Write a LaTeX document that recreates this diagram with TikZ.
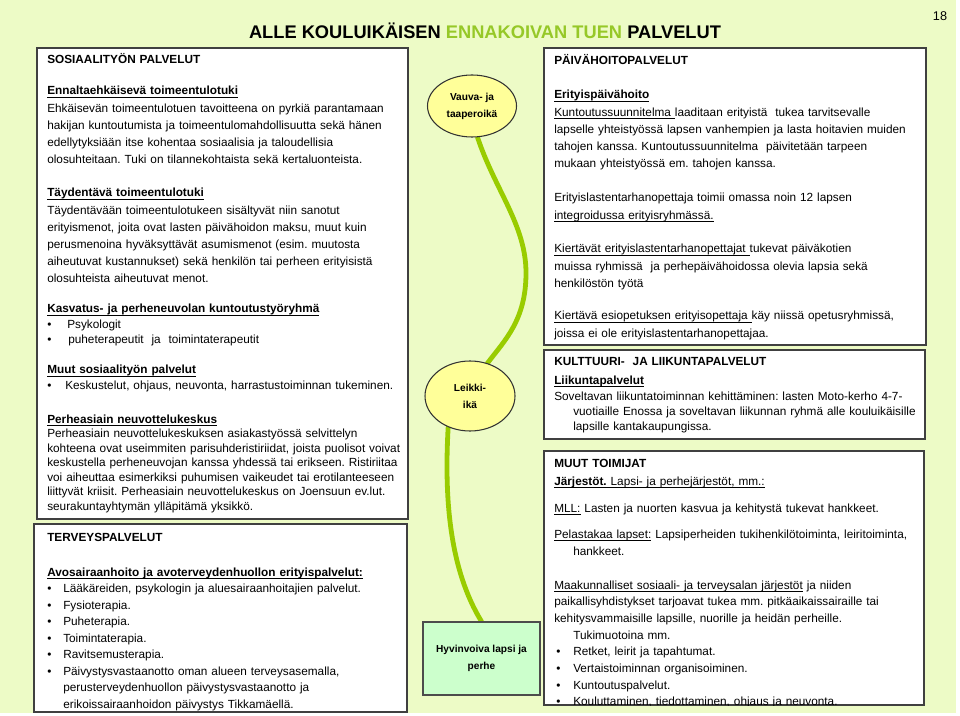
\documentclass[tikz,border=0pt]{standalone}
\usepackage{fontspec}
\setmainfont{Liberation Sans}
\usetikzlibrary{shapes.geometric,fit,backgrounds}
\frenchspacing

\definecolor{pagegreen}{RGB}{237,251,198}
\definecolor{titlegreen}{RGB}{150,200,40}
\definecolor{linegreen}{RGB}{153,204,0}
\definecolor{bubbleyellow}{RGB}{255,255,153}
\definecolor{mintbox}{RGB}{204,255,204}

\newdimen\px \px=0.75pt
\newcommand\lbul[1][18]{\makebox[#1\px][l]{•}}
\newsavebox\ulbox
\newcommand\uln[1]{\leavevmode\sbox\ulbox{#1}\rlap{\rule[-1.6pt]{\wd\ulbox}{0.45pt}}\usebox\ulbox}

\tikzset{
  panel/.style={draw=black!75, line width=1pt, fill=white, inner sep=0pt},
  txt/.style={anchor=base west, inner sep=0pt, text width=300pt, align=left,
    font=\fontsize{8.85}{#1}\selectfont},
  txt/.default=12.9,
  bubble/.style={ellipse, draw=black!80, line width=0.8pt, fill=bubbleyellow, inner sep=0pt},
  bubbletext/.style={align=center, inner sep=0pt, font=\bfseries\fontsize{7.6}{12.75}\selectfont},
  lifeline/.style={linegreen, line width=3.6pt, line cap=round},
}

\begin{document}
\begin{tikzpicture}[x=0.75pt,y=-0.75pt]
\useasboundingbox (0,0) rectangle (960,716);
\begin{scope}[on background layer]
\fill[pagegreen] (0,0) rectangle (956,713);
\end{scope}

\node[font=\bfseries\fontsize{13.7}{16}\selectfont] (title) at (485,31)
  {ALLE KOULUIKÄISEN \textcolor{titlegreen}{ENNAKOIVAN TUEN} PALVELUT};
\node[font=\fontsize{9.5}{11}\selectfont] (pagenum) at (940,16) {18};

% vasen puoli
\node[panel, fit={(37,48) (408,519)}] (sos) {};
\node[panel, fit={(34,524) (407,712)}] (terv) {};

\node[txt] (soshead) at (47,64) {\textbf{SOSIAALITYÖN PALVELUT}};
\node[txt=12.9] (ennalta) at (47,95) {\textbf{\uln{Ennaltaehkäisevä toimeentulotuki}}\\
Ehkäisevän toimeentulotuen tavoitteena on pyrkiä parantamaan\\
hakijan kuntoutumista ja toimeentulomahdollisuutta sekä hänen\\
edellytyksiään itse kohentaa sosiaalisia ja taloudellisia\\
olosuhteitaan. Tuki on tilannekohtaista sekä kertaluonteista.};
\node[txt=12.9] (taydentava) at (47,197) {\textbf{\uln{Täydentävä toimeentulotuki}}\\
Täydentävään toimeentulotukeen sisältyvät niin sanotut\\
erityismenot, joita ovat lasten päivähoidon maksu, muut kuin\\
perusmenoina hyväksyttävät asumismenot (esim. muutosta\\
aiheutuvat kustannukset) sekä henkilön tai perheen erityisistä\\
olosuhteista aiheutuvat menot.};
\node[txt=11.6] (kasvatus) at (47,313) {\textbf{\uln{Kasvatus- ja perheneuvolan kuntoutustyöryhmä}}\\
\lbul[20]Psykologit\\
\lbul[21]puheterapeutit\ \ ja\ \ toimintaterapeutit};
\node[txt=12] (muutsos) at (47,374) {\textbf{\uln{Muut sosiaalityön palvelut}}\\
\lbul Keskustelut, ohjaus, neuvonta, harrastustoiminnan tukeminen.};
\node[txt=10.9] (perheas) at (47,423) {\textbf{\uln{Perheasiain neuvottelukeskus}}\\
Perheasiain neuvottelukeskuksen asiakastyössä selvittelyn\\
kohteena ovat useimmiten parisuhderistiriidat, joista puolisot voivat\\
keskustella perheneuvojan kanssa yhdessä tai erikseen. Ristiriitaa\\
voi aiheuttaa esimerkiksi puhumisen vaikeudet tai erotilanteeseen\\
liittyvät kriisit. Perheasiain neuvottelukeskus on Joensuun ev.lut.\\
seurakuntayhtymän ylläpitämä yksikkö.};

\node[txt] (tervhead) at (47,541) {\textbf{TERVEYSPALVELUT}};
\node[txt=12.4] (avosair) at (47,576) {\textbf{\uln{Avosairaanhoito ja avoterveydenhuollon erityispalvelut:}}\\
\lbul[16]Lääkäreiden, psykologin ja aluesairaanhoitajien palvelut.\\
\lbul[16]Fysioterapia.\\
\lbul[16]Puheterapia.\\
\lbul[16]Toimintaterapia.\\
\lbul[16]Ravitsemusterapia.\\
\lbul[16]Päivystysvastaanotto oman alueen terveysasemalla,\\
\hspace*{16\px}perusterveydenhuollon päivystysvastaanotto ja\\
\hspace*{16\px}erikoissairaanhoidon päivystys Tikkamäellä.};

% oikea puoli
\node[panel, fit={(544,48) (926,345)}] (paiva) {};
\node[panel, fit={(544,350) (925,439)}] (kult) {};
\node[panel, fit={(544,451) (924,705)}] (muut) {};

\node[txt] (paivahead) at (554,65) {\textbf{PÄIVÄHOITOPALVELUT}};
\node[txt=12.9] (erityis) at (554,99) {\textbf{\uln{Erityispäivähoito}}\\
\uln{Kuntoutussuunnitelma }laaditaan erityistä\ \ tukea tarvitsevalle\\
lapselle yhteistyössä lapsen vanhempien ja lasta hoitavien muiden\\
tahojen kanssa. Kuntoutussuunnitelma\ \ päivitetään tarpeen\\
mukaan yhteistyössä em. tahojen kanssa.};
\node[txt=12.9] (erityislast) at (554,202) {Erityislastentarhanopettaja toimii omassa noin 12 lapsen\\
\uln{integroidussa erityisryhmässä.}};
\node[txt=12.9] (kiertavat) at (554,253) {\uln{Kiertävät erityislastentarhanopettajat }tukevat päiväkotien\\
muissa ryhmissä\ \ ja perhepäivähoidossa olevia lapsia sekä\\
henkilöstön työtä};
\node[txt=12.9] (esiopetus) at (554,320) {\uln{Kiertävä esiopetuksen erityisopettaja }käy niissä opetusryhmissä,\\
joissa ei ole erityislastentarhanopettajaa.};

\node[txt=13.5] (kulthead) at (554,366) {\textbf{KULTTUURI-\ \ JA LIIKUNTAPALVELUT}\\
\textbf{\uln{Liikuntapalvelut}}};
\node[txt=11.25] (soveltava) at (554,401) {Soveltavan liikuntatoiminnan kehittäminen: lasten Moto-kerho 4-7-\\
\hspace*{19\px}vuotiaille Enossa ja soveltavan liikunnan ryhmä alle kouluikäisille\\
\hspace*{19\px}lapsille kantakaupungissa.};

\begin{scope}
\clip (muut.north west) rectangle (muut.south east);
\node[txt=13.5] (muuthead) at (554,467) {\textbf{MUUT TOIMIJAT}\\
\uln{\textbf{Järjestöt.} Lapsi- ja perhejärjestöt, mm.:}};
\node[txt] (mll) at (554,512) {\uln{MLL:} Lasten ja nuorten kasvua ja kehitystä tukevat hankkeet.};
\node[txt=12.75] (pelastakaa) at (554,538) {\uln{Pelastakaa lapset:} Lapsiperheiden tukihenkilötoiminta, leiritoiminta,\\
\hspace*{19\px}hankkeet.};
\node[txt=12.5] (maakunta) at (554,589) {\uln{Maakunnalliset sosiaali- ja terveysalan järjestöt} ja niiden\\
paikallisyhdistykset tarjoavat tukea mm. pitkäaikaissairaille tai\\
kehitysvammaisille lapsille, nuorille ja heidän perheille.\\
\hspace*{19\px}Tukimuotoina mm.\\
\hspace*{2\px}\lbul[17]Retket, leirit ja tapahtumat.\\
\hspace*{2\px}\lbul[17]Vertaistoiminnan organisoiminen.\\
\hspace*{2\px}\lbul[17]Kuntoutuspalvelut.\\
\hspace*{2\px}\lbul[17]Kouluttaminen, tiedottaminen, ohjaus ja neuvonta.};
\end{scope}

% ikävaiheet
\node[bubble, minimum width=66.75pt, minimum height=46.5pt,
  label={[bubbletext]center:Vauva- ja\\taaperoikä}] (vauva) at (472,106) {};
\node[bubble, minimum width=67.5pt, minimum height=52.5pt,
  label={[bubbletext]center:Leikki-\\ikä}] (leikki) at (470,396) {};
\node[draw=black!70, line width=0.8pt, fill=mintbox, minimum width=87.75pt, minimum height=54.75pt,
  align=center, inner sep=0pt, font=\bfseries\fontsize{7.6}{12.75}\selectfont]
  (hyvinvoiva) at (481.5,658.5) {Hyvinvoiva lapsi ja\\perhe};

\begin{scope}[on background layer]
\draw[lifeline] (vauva.-80) .. controls (495,190) and (526,225) .. (526,273)
  .. controls (526,320) and (505,340) .. (leikki.62);
\draw[lifeline] (leikki.-125) .. controls (444,500) and (450,570) .. (hyvinvoiva.north);
\end{scope}
\end{tikzpicture}
\end{document}
